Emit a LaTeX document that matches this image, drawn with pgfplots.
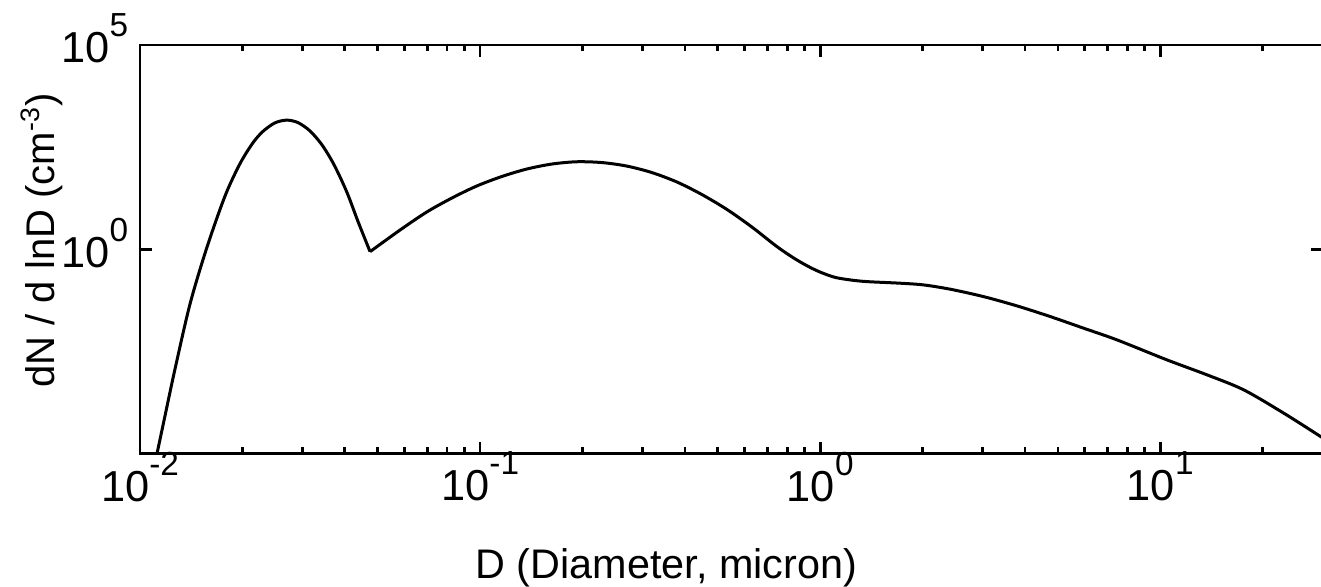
\documentclass[border=0pt]{standalone}
\usepackage{pgfplots}
\pgfplotsset{compat=1.18}
\usepackage{fontspec}
\setmainfont{Liberation Sans}
\newcommand\tl[1]{\fontsize{13}{13}\selectfont 10\raisebox{0.6em}{\fontsize{10}{10}\selectfont #1}}
\begin{document}
\begin{tikzpicture}
\begin{axis}[
  scale only axis, width=354.6pt, height=122.5pt,
  xmode=log, ymode=log,
  xmin=0.01, xmax=30, ymin=1e-5, ymax=1e5,
  xtick={0.01,0.1,1,10}, xticklabels={\tl{-2},\tl{-1},\tl{0},\tl{1}},
  minor xtick={0.02,0.03,0.04,0.05,0.06,0.07,0.08,0.09,0.2,0.3,0.4,0.5,0.6,0.7,0.8,0.9,2,3,4,5,6,7,8,9,20,30},
  ytick={1,1e5}, yticklabels={\tl{0},\tl{5}},
  minor ytick={},
  xticklabel style={yshift=4pt},
  yticklabel style={yshift=2pt},
  tick align=inside,
  major tick length=3.5pt, minor tick length=1.8pt,
  every tick/.style={black, line width=0.8pt},
  axis line style={black, line width=0.8pt},
  xlabel={D (Diameter, micron)},
  xlabel style={font=\fontsize{12.4}{14}\selectfont, at={(axis description cs:0.445,0)}, anchor=north, yshift=-25pt},
  ylabel={dN / d lnD (cm\textsuperscript{-3})},
  ylabel style={font=\fontsize{12}{14}\selectfont, at={(axis description cs:-0.083,0.522)}, anchor=center},
  clip=true,
]
\addplot[black, line width=0.9pt, smooth, tension=0.5] coordinates {
(0.01122,1.0e-5)
(0.01184,8.3e-5)
(0.01268,1.2e-3)
(0.01403,0.046)
(0.01571,1.08)
(0.01778,20.1)
(0.01968,124.5)
(0.02148,404)
(0.02300,772)
(0.02494,1245)
(0.02701,1449)
(0.02916,1256)
(0.03162,785)
(0.03430,357)
(0.03720,117)
(0.04055,25.2)
(0.04377,4.73)
(0.04747,0.873)
};
\addplot[black, line width=0.9pt, smooth, tension=0.5] coordinates {
(0.04747,0.873)
(0.05817,2.96)
(0.06970,8.17)
(0.08256,17.9)
(0.09772,35.3)
(0.1158,60.3)
(0.1371,91.9)
(0.1625,121.8)
(0.1923,138.6)
(0.2280,132.5)
(0.2698,108.8)
(0.3199,75.5)
(0.3793,44.2)
(0.4487,21.9)
(0.5321,9.40)
(0.6295,3.51)
(0.7464,1.16)
(0.8443,0.579)
(0.9346,0.359)
(1.0136,0.2635)
(1.107,0.2046)
(1.225,0.1775)
(1.372,0.1614)
(1.719,0.1475)
(2.013,0.134)
(2.412,0.1052)
(3.022,0.0693)
(3.789,0.0411)
(4.748,0.0225)
(5.948,0.0117)
(7.459,6.05e-3)
(10.46,1.96e-3)
(13.71,8.45e-4)
(17.58,3.63e-4)
(23.05,9.77e-5)
(29.58,2.62e-5)
(30,2.4e-5)
};
\coordinate (bl) at (rel axis cs:0,0);
\coordinate (tr) at (rel axis cs:1,1);
\end{axis}
\pgfresetboundingbox
\path[use as bounding box] ([xshift=-42pt,yshift=-39.8pt]bl) rectangle ([xshift=-0.45pt,yshift=13.5pt]tr);
\end{tikzpicture}
\end{document}
